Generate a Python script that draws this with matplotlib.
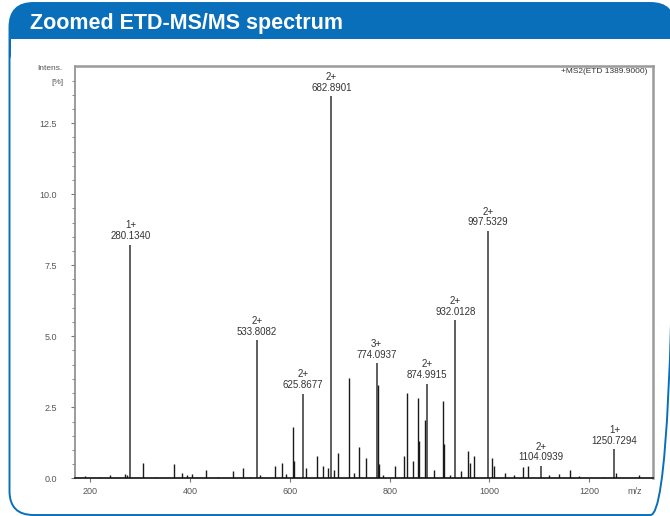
import matplotlib.pyplot as plt
import matplotlib.patches as mpatches
import numpy as np

# labelled peaks
peak_mz = [280.1340, 533.8082, 625.8677, 682.8901, 774.0937,
           874.9915, 932.0128, 997.5329, 1104.0939, 1250.7294]
peak_int = [8.22, 4.86, 2.98, 13.45, 4.05, 3.33, 5.56, 8.71, 0.44, 1.02]
peak_charge = ["1+", "2+", "2+", "2+", "3+", "2+", "2+", "2+", "2+", "1+"]

# unlabelled peaks
minor_mz = [190, 220, 239, 269, 274, 305, 330, 368, 383, 393, 403, 431, 455,
            486, 506, 520, 540, 570, 585, 593, 606, 609, 632, 654, 667, 676,
            688, 697, 719, 728, 739, 753, 776, 779, 787, 811, 828, 834, 846,
            856, 858, 870, 888, 906, 909, 920, 944, 958, 961, 970, 1006, 1009,
            1032, 1050, 1067, 1078, 1120, 1140, 1162, 1180, 1230, 1253, 1300]
minor_int = [0.08, 0.05, 0.13, 0.15, 0.12, 0.55, 0.05, 0.52, 0.18, 0.10, 0.15,
             0.30, 0.05, 0.27, 0.38, 0.05, 0.10, 0.42, 0.55, 0.15, 1.81, 0.60,
             0.35, 0.78, 0.42, 0.35, 0.30, 0.90, 3.52, 0.20, 1.10, 0.70, 3.30,
             0.50, 0.10, 0.42, 0.78, 2.99, 0.60, 2.84, 1.30, 2.05, 0.30, 2.73,
             1.20, 0.10, 0.25, 0.97, 0.55, 0.80, 0.70, 0.45, 0.20, 0.10, 0.40,
             0.42, 0.10, 0.14, 0.30, 0.08, 0.05, 0.20, 0.10]

x_ticks = [200, 400, 600, 800, 1000, 1200]
y_ticks = [0, 2.5, 5.0, 7.5, 10.0, 12.5]

blue = "#0a6fba"
grey_txt = "#555555"
plt.rcParams["font.family"] = ["Liberation Sans", "DejaVu Sans"]

fig = plt.figure(figsize=(6.7, 5.16), dpi=100)

# card background drawn in pixel units
bg = fig.add_axes([0, 0, 1, 1], zorder=0)
bg.set_xlim(0, 670)
bg.set_ylim(516, 0)
bg.axis("off")
bg.add_patch(mpatches.FancyBboxPatch((9.5, 3), 665, 70, boxstyle="round,pad=0,rounding_size=24",
                                     facecolor=blue, edgecolor="none"))
bg.add_patch(mpatches.Rectangle((10.5, 38.5), 663, 40, facecolor="white", edgecolor="none"))
bg.add_patch(mpatches.FancyBboxPatch((9.5, 3), 665, 512, boxstyle="round,pad=0,rounding_size=24",
                                     facecolor="none", edgecolor=blue, linewidth=1.4,
                                     clip_on=False))
bg.text(30, 28.5, "Zoomed ETD-MS/MS spectrum", color="white", fontsize=15.5,
        fontweight="bold", va="baseline", ha="left")
bg.text(63, 69, "Intens.", fontsize=6, color=grey_txt, ha="right", va="center")
bg.text(64, 82, "[%]", fontsize=6, color=grey_txt, ha="right", va="center")

ax = fig.add_axes([0.1119, 0.073, 0.8627, 0.7996], zorder=1)
ax.patch.set_alpha(0)

ax.vlines(minor_mz, 0, minor_int, color="#1a1a1a", linewidth=1.0)
ax.vlines(peak_mz, 0, peak_int, color="#333333", linewidth=1.1)

for mz, h, z in zip(peak_mz, peak_int, peak_charge):
    ax.annotate(f"{z}\n{mz:.4f}", xy=(mz, h), xytext=(0, 2.5), textcoords="offset points",
                ha="center", va="bottom", fontsize=7, color="#333333", linespacing=1.1)

ax.set_xlim(169, 1328)
ax.set_ylim(0, 14.52)
ax.set_xticks(x_ticks)
ax.set_yticks(y_ticks)
ax.set_yticks(np.arange(0, 14.5, 0.5), minor=True)
ax.set_yticklabels([f"{v:.1f}" for v in y_ticks])
ax.tick_params(axis="both", which="both", direction="out", colors="#777777",
               labelcolor=grey_txt, labelsize=6.5)
ax.tick_params(axis="x", length=3, pad=3.5)
ax.tick_params(axis="y", which="major", length=3, pad=10)
ax.tick_params(axis="y", which="minor", length=2)

for s in ["top", "right"]:
    ax.spines[s].set_color("#9a9a9a")
    ax.spines[s].set_linewidth(1.8)
ax.spines["left"].set_color("#8a8a8a")
ax.spines["left"].set_linewidth(1.2)
ax.spines["bottom"].set_color("#111111")
ax.spines["bottom"].set_linewidth(1.2)

ax.annotate("m/z", xy=(1292, 0), xycoords=("data", "axes fraction"), xytext=(0, -6.5),
            textcoords="offset points", ha="center", va="top", fontsize=6.5, color=grey_txt)
ax.text(0.99, 0.987, "+MS2(ETD 1389.9000)", transform=ax.transAxes, ha="right",
        va="center", fontsize=6, color="#333333")

fig.savefig("out.png", dpi=100)
